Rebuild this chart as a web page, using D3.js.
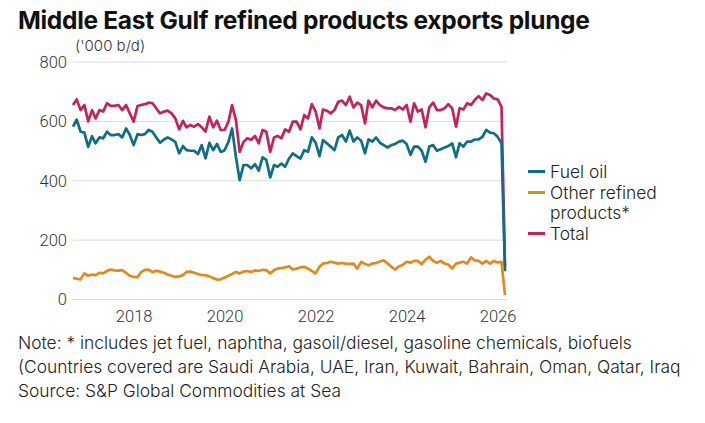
<!DOCTYPE html>
<html>
<head>
<meta charset="utf-8">
<script src="https://cdn.jsdelivr.net/npm/d3@7"></script>
<style>
  body { margin: 0; background: #fff; }
  svg { display: block; font-family: Inter, Roboto, "Noto Sans", sans-serif; }
</style>
</head>
<body>
<svg width="705" height="423"></svg>
<script>
// Monthly values, Sep 2016 - Mar 2026 ('000 b/d)
var startMonth = new Date(2016, 8, 1);

var fuelOil = [
  582, 606, 565, 562, 514, 550, 526, 546, 543, 565,
  554, 554, 557, 546, 576, 554, 520, 557, 554, 557,
  571, 565, 546, 528, 539, 546, 539, 531, 492, 517,
  503, 501, 501, 490, 520, 475, 528, 503, 524, 497,
  503, 531, 576, 480, 402, 453,
  453, 442, 456, 434, 479, 470, 411, 453, 447, 458,
  447, 475, 492, 483, 475, 503, 498, 546, 528, 483,
  537, 526, 515, 503, 546, 554, 532, 569, 532, 546,
  535, 492, 539, 532, 546, 528, 520, 512, 520, 524,
  532, 535, 524, 487, 515, 515, 501, 464, 515, 520,
  501, 506, 512, 517, 526, 479, 526, 515, 532, 532,
  539, 539, 548, 571, 562, 560, 548, 526,
  95
];

var otherProducts = [
  73, 70, 68, 88, 80, 84, 82, 90, 88, 96,
  101, 98, 97, 99, 90, 80, 76, 75, 92, 100,
  101, 92, 97, 94, 90, 84, 80, 76, 78, 82,
  93, 94, 90, 86, 82, 82, 78, 72, 67, 68,
  74, 80, 86, 93, 88, 94, 96, 93, 98, 96,
  100,
  99, 88, 99, 104, 106, 108, 112, 101, 104, 108,
  110, 104, 96, 88, 110, 121, 123, 127, 124, 121,
  123, 121, 120, 121, 104, 127, 120, 115, 121, 123,
  128, 132, 121, 110, 101, 112, 116, 127, 124, 130,
  130, 119, 134, 144, 130, 124, 130, 121, 118, 104,
  121, 124, 127, 121, 142, 132, 130, 121, 130, 121,
  130, 125, 127, 15
];

var total = [
  655, 674, 638, 655, 600, 638, 610, 638, 633, 661,
  652, 652, 655, 638, 655, 627, 599, 652, 655, 658,
  663, 661, 644, 627, 633, 636, 627, 610, 573, 602,
  580, 588, 582, 591, 580, 566, 616, 580, 602, 571,
  571, 599, 655, 604, 497, 531,
  543, 538, 551, 526, 571, 565, 497, 546, 551, 543,
  573, 565, 599, 599, 573, 621, 610, 658, 633, 576,
  640, 636, 627, 638, 666, 670, 655, 683, 647, 663,
  655, 593, 670, 647, 670, 655, 647, 644, 644, 638,
  649, 640, 655, 599, 661, 633, 640, 580, 647, 663,
  638, 638, 644, 658, 644, 582, 644, 640, 661, 655,
  672, 685, 672, 694, 689, 677, 674, 649,
  110
];

var yTicks = [0, 200, 400, 600, 800];
var xTickYears = [2018, 2020, 2022, 2024, 2026];
var seriesNames = ['Fuel oil', 'Other refined products*', 'Total'];
var noteLines = [
  'Note: * includes jet fuel, naphtha, gasoil/diesel, gasoline chemicals, biofuels',
  '(Countries covered are Saudi Arabia, UAE, Iran, Kuwait, Bahrain, Oman, Qatar, Iraq',
  'Source: S&P Global Commodities at Sea'
];

var colors = {fuel: '#0e6e85', other: '#e3891a', total: '#c4215f'};

var dates = fuelOil.map((d, i) => d3.timeMonth.offset(startMonth, i));
var lastDate = dates[dates.length - 1];

var svg = d3.select('svg');

// scales
var x = d3.scaleTime().domain([startMonth, lastDate]).range([73, 505]);
var y = d3.scaleLinear().domain([0, 800]).range([299.5, 62]);

// title + unit
svg.append('text')
  .attr('x', 18).attr('y', 29)
  .attr('font-size', 24.5).attr('font-weight', 700).attr('fill', '#111')
  .attr('letter-spacing', -0.3)
  .text('Middle East Gulf refined products exports plunge');

svg.append('text')
  .attr('x', 75).attr('y', 51)
  .attr('font-size', 15).attr('font-weight', 300).attr('fill', '#333')
  .text("('000 b/d)");

// gridlines
svg.append('g').selectAll('line')
  .data(yTicks).enter()
  .append('line')
  .attr('x1', 73).attr('x2', 507)
  .attr('y1', d => y(d)).attr('y2', d => y(d))
  .attr('stroke', '#dcdcdc').attr('stroke-width', 1);

// y axis labels
var yAxis = d3.axisLeft(y).tickValues(yTicks).tickSize(0).tickPadding(6);
var yg = svg.append('g').attr('transform', 'translate(73,0)').call(yAxis);
yg.select('.domain').remove();
yg.selectAll('text').attr('font-size', 16.5).attr('font-weight', 300).attr('fill', '#333')
  .attr('font-family', 'Roboto, sans-serif');

// x axis labels
var xAxis = d3.axisBottom(x)
  .tickValues(xTickYears.map(yr => new Date(yr, 0, 1)))
  .tickFormat(d3.timeFormat('%Y'))
  .tickSize(0).tickPadding(11);
var xg = svg.append('g').attr('transform', 'translate(0,299.5)').call(xAxis);
xg.select('.domain').remove();
xg.selectAll('text').attr('font-size', 16.5).attr('font-weight', 300).attr('fill', '#333')
  .attr('font-family', 'Roboto, sans-serif');

// lines
var line = d3.line().x((d, i) => x(dates[i])).y(d => y(d));

[[total, colors.total], [fuelOil, colors.fuel], [otherProducts, colors.other]].forEach(s => {
  svg.append('path')
    .datum(s[0])
    .attr('fill', 'none')
    .attr('stroke', s[1])
    .attr('stroke-width', 2.7)
    .attr('stroke-linejoin', 'round')
    .attr('d', line);
});

// legend
var legend = [
  {name: seriesNames[0], color: colors.fuel, y: 171.5, lines: ['Fuel oil']},
  {name: seriesNames[1], color: colors.other, y: 192.5, lines: ['Other refined', 'products*']},
  {name: seriesNames[2], color: colors.total, y: 233.5, lines: ['Total']}
];
var lg = svg.append('g').selectAll('g').data(legend).enter().append('g');
lg.append('line')
  .attr('x1', 528).attr('x2', 545)
  .attr('y1', d => d.y).attr('y2', d => d.y)
  .attr('stroke', d => d.color).attr('stroke-width', 3);
lg.append('text')
  .attr('x', 550).attr('y', d => d.y + 6)
  .attr('font-size', 17.4).attr('font-weight', 300).attr('fill', '#222')
  .selectAll('tspan').data(d => d.lines).enter()
  .append('tspan')
  .attr('x', 550).attr('dy', (d, i) => i ? 20.5 : 0)
  .text(d => d);

// notes
svg.append('g').selectAll('text')
  .data(noteLines).enter()
  .append('text')
  .attr('x', 18).attr('y', (d, i) => 349 + i * 24)
  .attr('font-size', 17.4).attr('font-weight', 300).attr('fill', '#222')
  .text(d => d);
</script>
</body>
</html>
